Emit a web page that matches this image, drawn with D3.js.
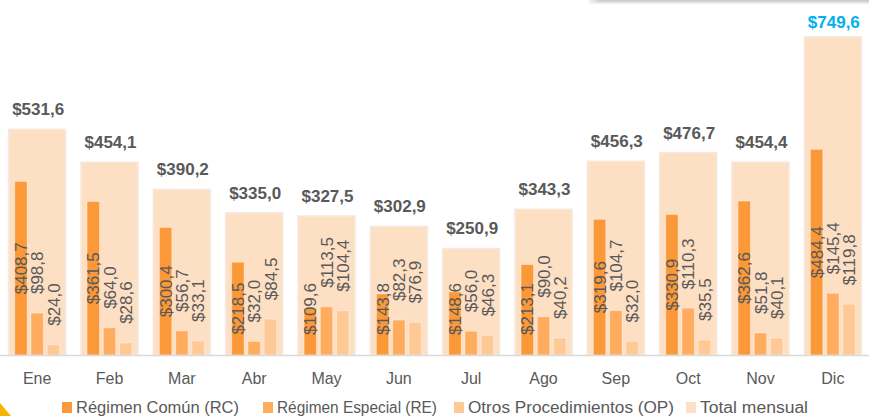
<!DOCTYPE html>
<html>
<head>
<meta charset="utf-8">
<script src="https://cdn.jsdelivr.net/npm/d3@7/dist/d3.min.js"></script>
<style>
  html, body { margin: 0; padding: 0; background: #ffffff; }
  svg { display: block; }
  text { font-family: "Liberation Sans", Arial, sans-serif; }
</style>
</head>
<body>
<svg id="chart" width="869" height="416"></svg>
<script>
// ---- data ----
const months = ["Ene", "Feb", "Mar", "Abr", "May", "Jun", "Jul", "Ago", "Sep", "Oct", "Nov", "Dic"];
const regimenComun = [408.7, 361.5, 300.4, 218.5, 109.6, 143.8, 148.6, 213.1, 319.6, 330.9, 362.6, 484.4];
const regimenEspecial = [98.8, 64.0, 56.7, 32.0, 113.5, 82.3, 56.0, 90.0, 104.7, 110.3, 51.8, 145.4];
const otrosProcedimientos = [24.0, 28.6, 33.1, 84.5, 104.4, 76.9, 46.3, 40.2, 32.0, 35.5, 40.1, 119.8];
const totalMensual = [531.6, 454.1, 390.2, 335.0, 327.5, 302.9, 250.9, 343.3, 456.3, 476.7, 454.4, 749.6];
const seriesNames = ["Régimen Común (RC)", "Régimen Especial (RE)", "Otros Procedimientos (OP)", "Total mensual"];

const colors = {
  rc: "#FB9837",
  re: "#FFAC5E",
  op: "#FFC995",
  total: "#FDDFC4"
};

const fmt = v => "$" + v.toFixed(1).replace(".", ",");

const svg = d3.select("#chart");

// top-right decorative shadow line
const grad = svg.append("defs").append("linearGradient").attr("id", "fadeLine")
  .attr("x1", "0").attr("x2", "1");
grad.append("stop").attr("offset", "0").attr("stop-color", "#d6d6d6").attr("stop-opacity", 0.2);
grad.append("stop").attr("offset", "0.04").attr("stop-color", "#cfcfcf").attr("stop-opacity", 1);
grad.append("stop").attr("offset", "1").attr("stop-color", "#cfcfcf").attr("stop-opacity", 1);
svg.append("rect").attr("x", 588).attr("y", 0).attr("width", 281).attr("height", 2.5).attr("fill", "url(#fadeLine)");
svg.append("rect").attr("x", 590).attr("y", 2.5).attr("width", 279).attr("height", 1.5).attr("fill", "#ececec");

// bottom-left decorative corner
svg.append("path").attr("d", "M0,403 L11,416 L0,416 Z").attr("fill", "#F6B400");

// ---- scales ----
const x = d3.scaleBand().domain(months).range([1, 869]).paddingInner(0.21).paddingOuter(0.105);
const subKeys = ["rc", "re", "op"];
const x1 = d3.scaleBand().domain(subKeys).range([0, x.bandwidth()]).paddingInner(0.24).paddingOuter(0.38);
const y = d3.scaleLinear().domain([0, 800]).range([355, 15.4]);

const rows = months.map((m, i) => ({
  month: m,
  total: totalMensual[i],
  subs: [
    { key: "rc", value: regimenComun[i] },
    { key: "re", value: regimenEspecial[i] },
    { key: "op", value: otrosProcedimientos[i] }
  ]
}));

const g = svg.append("g");

// total bars (background)
g.selectAll("rect.total").data(rows).join("rect")
  .attr("class", "total")
  .attr("x", d => x(d.month))
  .attr("y", d => y(d.total))
  .attr("width", x.bandwidth())
  .attr("height", d => y(0) - y(d.total))
  .attr("fill", colors.total)
  .attr("stroke", "#F6EAE0")
  .attr("stroke-width", 1.5);

// baseline
svg.append("line")
  .attr("x1", 0).attr("x2", 869)
  .attr("y1", y(0) + 0.5).attr("y2", y(0) + 0.5)
  .attr("stroke", "#D9D9D9").attr("stroke-width", 1.5);

// sub bars
const groups = g.selectAll("g.month").data(rows).join("g")
  .attr("class", "month")
  .attr("transform", d => `translate(${x(d.month)},0)`);

groups.selectAll("rect.sub").data(d => d.subs).join("rect")
  .attr("class", "sub")
  .attr("x", d => x1(d.key))
  .attr("y", d => y(d.value))
  .attr("width", x1.bandwidth())
  .attr("height", d => y(0) - y(d.value))
  .attr("fill", d => colors[d.key])
  .attr("stroke", "rgba(255,255,255,0.35)")
  .attr("stroke-width", 1);

// rotated value labels
groups.selectAll("text.val").data(d => d.subs).join("text")
  .attr("class", "val")
  .attr("transform", d => {
    const cx = x1(d.key) + x1.bandwidth() / 2;
    let cy;
    if (d.key === "rc") {
      cy = Math.min((y(d.value) + y(0)) / 2, y(0) - 46);
    } else {
      cy = y(d.value) - 19;
    }
    return `translate(${cx},${cy}) rotate(-90)`;
  })
  .attr("text-anchor", d => d.key === "rc" ? "middle" : "start")
  .attr("dy", "0.36em")
  .attr("font-size", 17)
  .attr("fill", "#595959")
  .text(d => fmt(d.value));

// total labels
g.selectAll("text.tot").data(rows).join("text")
  .attr("class", "tot")
  .attr("x", d => x(d.month) + x.bandwidth() / 2 + 1)
  .attr("y", d => Math.max(y(d.total) - 14, 28))
  .attr("text-anchor", "middle")
  .attr("font-size", 17)
  .attr("font-weight", "bold")
  .attr("fill", d => d.total === d3.max(totalMensual) ? "#00B0F0" : "#595959")
  .text(d => fmt(d.total));

// x axis
const xAxis = svg.append("g")
  .attr("transform", `translate(0,${y(0)})`)
  .call(d3.axisBottom(x).tickSize(0).tickPadding(18));
xAxis.select(".domain").remove();
xAxis.selectAll("text")
  .attr("font-size", 16)
  .attr("fill", "#595959")
  .style("font-family", "'Liberation Sans', Arial, sans-serif");

// legend
const legendColors = [colors.rc, colors.re, colors.op, colors.total];
const legendX = [62, 263, 454, 686];
const legendW = [163, 160, 206, 108];
const legend = svg.append("g");
seriesNames.forEach((name, i) => {
  const lg = legend.append("g").attr("transform", `translate(${legendX[i]},402)`);
  lg.append("rect").attr("width", 10).attr("height", 11).attr("fill", legendColors[i]);
  lg.append("text").attr("x", 14).attr("y", 10.5).attr("font-size", 16)
    .attr("textLength", legendW[i]).attr("lengthAdjust", "spacingAndGlyphs")
    .attr("fill", "#595959").text(name);
});
</script>
</body>
</html>
